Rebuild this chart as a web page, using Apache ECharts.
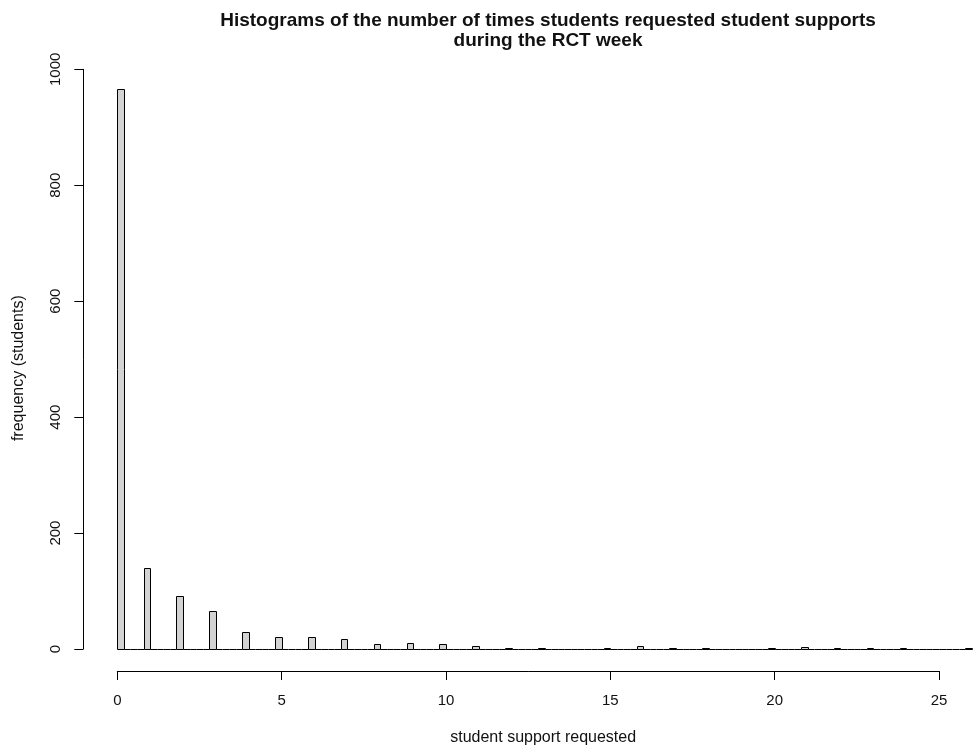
<!DOCTYPE html>
<html>
<head>
<meta charset="utf-8">
<script src="https://cdn.jsdelivr.net/npm/echarts@6/dist/echarts.min.js"></script>
<style>
html,body{margin:0;padding:0;background:#fff;}
#chart{width:975px;height:751px;}
</style>
</head>
<body>
<div id="chart"></div>
<script>
// Number of times a student requested support (0..26) and how many students did so
const supportRequests = [0,1,2,3,4,5,6,7,8,9,10,11,12,13,14,15,16,17,18,19,20,21,22,23,24,25,26];
const studentCounts   = [966,140,91,65,29,20,20,18,9,11,9,6,2,2,0,2,5,2,2,0,1,4,2,2,2,0,1];
const binWidth = 0.2;           // histogram breaks every 0.2 (R: right-closed bins)
const xTicks = [0,5,10,15,20,25];
const yTicks = [0,200,400,600,800,1000];

// Build the bins (0 to 26 by 0.2). Value 0 -> [0,0.2], value k -> (k-0.2, k]
const nBins = Math.round(supportRequests[supportRequests.length-1] / binWidth);
const bins = [];
for (let i = 0; i < nBins; i++) {
  bins.push([+(i*binWidth).toFixed(2), +((i+1)*binWidth).toFixed(2), 0]);
}
supportRequests.forEach((v, j) => {
  const idx = v === 0 ? 0 : Math.round(v / binWidth) - 1;
  bins[idx][2] += studentCounts[j];
});

const chart = echarts.init(document.getElementById('chart'), null, {renderer: 'canvas'});
const textColor = '#111';
const font = 'Liberation Sans, Arial, sans-serif';

chart.setOption({
  animation: false,
  backgroundColor: '#fff',
  title: {
    text: 'Histograms of the number of times students requested student supports\nduring the RCT week',
    left: 543,
    top: 6,
    textAlign: 'center',
    textStyle: {fontFamily: font, fontWeight: 'bold', fontSize: 19, lineHeight: 20, color: textColor}
  },
  grid: {left: 117.3, width: 821.7, top: 69.3, height: 581.4, containLabel: false},
  xAxis: {
    type: 'value', min: xTicks[0], max: xTicks[xTicks.length-1], interval: 5,
    offset: 22,
    name: 'student support requested', nameLocation: 'middle', nameGap: 59,
    nameTextStyle: {fontFamily: font, fontSize: 16, color: textColor, padding: [0, 0, 0, 30]},
    axisLine: {show: true, onZero: false, lineStyle: {color: '#000', width: 1}},
    axisTick: {show: true, length: 9, inside: false, lineStyle: {color: '#000'}},
    axisLabel: {margin: 22, fontFamily: font, fontSize: 15, color: textColor},
    splitLine: {show: false}
  },
  yAxis: {
    type: 'value', min: yTicks[0], max: yTicks[yTicks.length-1], interval: 200,
    offset: 34,
    name: 'frequency (students)', nameLocation: 'middle', nameGap: 57,
    nameTextStyle: {fontFamily: font, fontSize: 16, color: textColor, padding: [0, 18, 0, 0]},
    axisLine: {show: true, onZero: false, lineStyle: {color: '#000', width: 1}},
    axisTick: {show: true, length: 9, inside: false, lineStyle: {color: '#000'}},
    axisLabel: {rotate: 90, margin: 20, fontFamily: font, fontSize: 15, color: textColor,
                formatter: function (v) { return String(v); }},
    splitLine: {show: false}
  },
  series: [{
    type: 'custom',
    clip: false,
    data: bins,
    encode: {x: [0, 1], y: 2},
    renderItem: function (params, api) {
      const start = api.value(0), end = api.value(1), count = api.value(2);
      const p1 = api.coord([start, count]);
      const p2 = api.coord([end, 0]);
      const x1 = Math.round(p1[0]) + 0.5, x2 = Math.round(p2[0]) + 0.5;
      const yb = Math.round(p2[1]) + 0.5, yt = Math.round(p1[1]) + 0.5;
      if (count > 0) {
        return {
          type: 'rect',
          shape: {x: x1, y: yt, width: x2 - x1, height: yb - yt},
          style: {fill: '#d3d3d3', stroke: '#000', lineWidth: 1}
        };
      }
      return {
        type: 'line',
        shape: {x1: x1, y1: yb, x2: x2, y2: yb},
        style: {stroke: '#000', lineWidth: 1}
      };
    }
  }]
});
</script>
</body>
</html>
